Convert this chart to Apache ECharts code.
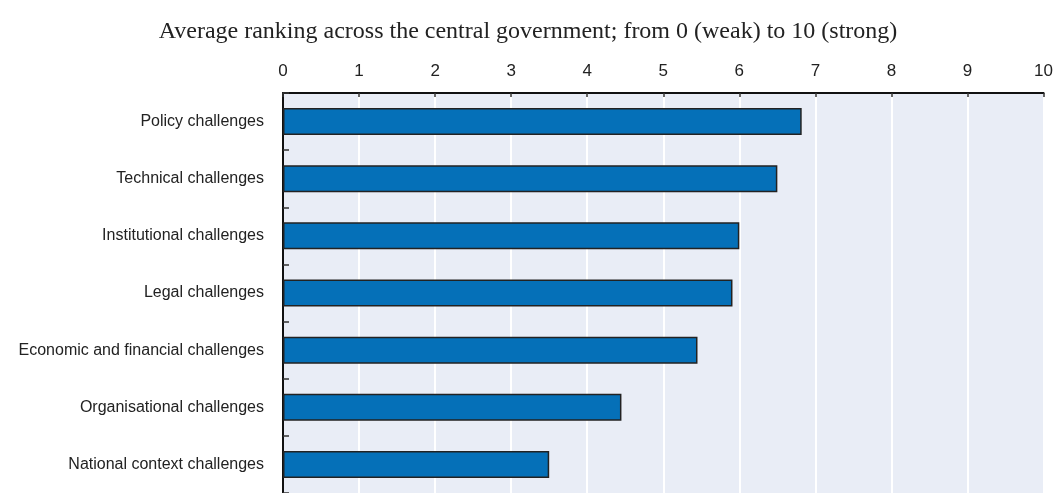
<!DOCTYPE html>
<html>
<head>
<meta charset="utf-8">
<script src="https://cdn.jsdelivr.net/npm/echarts@6/dist/echarts.min.js"></script>
<style>
  html, body { margin: 0; padding: 0; background: #fff; }
  #chart { width: 1056px; height: 493px; }
</style>
</head>
<body>
<div id="chart"></div>
<script>
// data
var categories = [
  "Policy challenges",
  "Technical challenges",
  "Institutional challenges",
  "Legal challenges",
  "Economic and financial challenges",
  "Organisational challenges",
  "National context challenges"
];
var scores = [6.82, 6.5, 6.0, 5.91, 5.45, 4.45, 3.5];
var axisMin = 0;
var axisMax = 10;
var axisStep = 1;

var chart = echarts.init(document.getElementById("chart"));

var option = {
  animation: false,
  title: {
    text: "Average ranking across the central government; from 0 (weak) to 10 (strong)",
    left: "center",
    top: 15,
    textStyle: {
      fontFamily: "Liberation Serif",
      fontWeight: "normal",
      fontSize: 24,
      color: "#222"
    }
  },
  grid: {
    left: 283,
    right: 12,
    top: 93,
    height: 405,
    show: true,
    backgroundColor: "#e9edf6",
    borderWidth: 0
  },
  xAxis: {
    type: "value",
    position: "top",
    min: axisMin,
    max: axisMax,
    interval: axisStep,
    axisLine: { show: true, lineStyle: { color: "#111", width: 2 } },
    axisTick: { show: true, inside: true, length: 4, lineStyle: { color: "#333", width: 1.5 } },
    axisLabel: {
      margin: 13,
      fontFamily: "Liberation Sans",
      fontSize: 17,
      color: "#222"
    },
    splitLine: { show: true, lineStyle: { color: "#fff", width: 2 } }
  },
  yAxis: {
    type: "category",
    data: categories,
    inverse: true,
    axisLine: { show: true, lineStyle: { color: "#111", width: 2 } },
    axisTick: { show: true, inside: true, length: 6, lineStyle: { color: "#333", width: 1.5 } },
    axisLabel: {
      margin: 19,
      fontFamily: "Liberation Sans",
      fontSize: 16,
      color: "#222"
    }
  },
  series: [{
    type: "bar",
    data: scores,
    barWidth: 27,
    itemStyle: {
      color: "#0570b8",
      borderColor: "#222",
      borderWidth: 1.5
    }
  }]
};

chart.setOption(option);
</script>
</body>
</html>
